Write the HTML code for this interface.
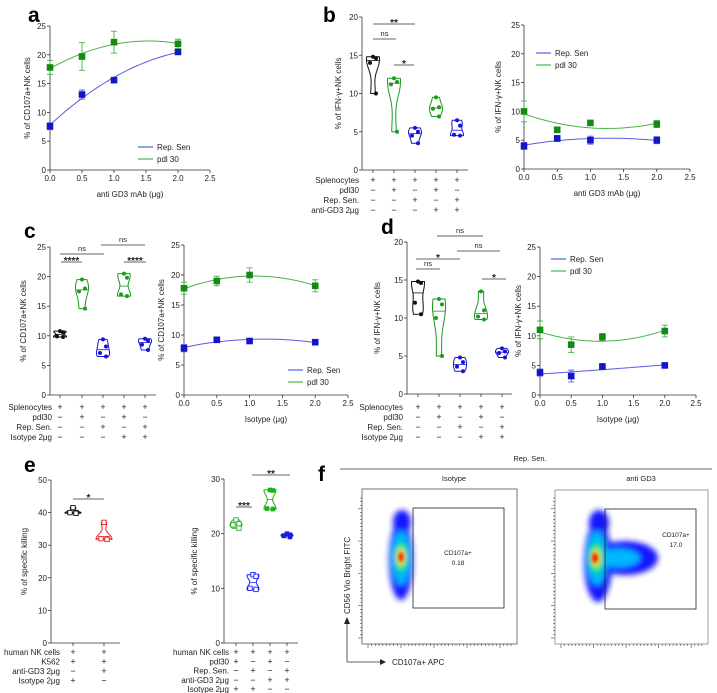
<!DOCTYPE html>
<html><head><meta charset="utf-8"><style>
html,body{margin:0;padding:0;background:#fff;}
svg{display:block;font-family:"Liberation Sans",sans-serif;}
</style></head><body>
<svg id="fig" xmlns="http://www.w3.org/2000/svg" width="717" height="693" viewBox="0 0 717 693">
<defs>
<filter id="blur" x="-50%" y="-50%" width="200%" height="200%"><feGaussianBlur stdDeviation="3"/></filter>
<filter id="blur2" x="-50%" y="-50%" width="200%" height="200%"><feGaussianBlur stdDeviation="1.6"/></filter>
</defs>
<g font-weight="bold" font-size="21" fill="#000">
<text x="28" y="22">a</text>
<text x="323" y="22">b</text>
<text x="24" y="238">c</text>
<text x="381" y="234">d</text>
<text x="24" y="472">e</text>
<text x="318" y="481">f</text>
</g>
<!-- panel f static -->
<g font-size="7.5" fill="#222">
<line x1="340" y1="469" x2="712" y2="469" stroke="#333" stroke-width="0.8"/>
<text x="530" y="461" text-anchor="middle">Rep. Sen.</text>
<text x="454" y="481" text-anchor="middle">Isotype</text>
<text x="641" y="481" text-anchor="middle">anti GD3</text>
<rect x="362" y="489" width="155" height="155" fill="none" stroke="#555" stroke-width="0.8"/>
<rect x="555" y="490" width="153" height="154" fill="none" stroke="#888" stroke-width="0.8"/>
<g filter="url(#blur)">
<ellipse cx="401" cy="560" rx="12" ry="40" fill="#1515ff"/>
<ellipse cx="402" cy="522" rx="9" ry="12" fill="#1515ff"/>
<ellipse cx="401" cy="558" rx="9" ry="27" fill="#00b8ff"/>
<ellipse cx="401" cy="557" rx="6" ry="16" fill="#00e070"/>
<ellipse cx="401" cy="557" rx="4" ry="9" fill="#f0f000"/>
</g>
<ellipse cx="401" cy="557" rx="2.5" ry="5" fill="#ff1a00" filter="url(#blur2)"/>
<g filter="url(#blur)">
<ellipse cx="625" cy="558" rx="33" ry="17" fill="#1515ff"/>
<ellipse cx="598" cy="562" rx="14" ry="40" fill="#1515ff"/>
<ellipse cx="599" cy="523" rx="10" ry="13" fill="#1515ff"/>
<ellipse cx="618" cy="558" rx="22" ry="9" fill="#00b8ff"/>
<ellipse cx="597" cy="558" rx="10" ry="27" fill="#00b8ff"/>
<ellipse cx="596" cy="558" rx="7" ry="16" fill="#00e070"/>
<ellipse cx="596" cy="558" rx="4" ry="9" fill="#f0f000"/>
</g>
<ellipse cx="595" cy="558" rx="3" ry="5" fill="#ff1a00" filter="url(#blur2)"/>
<rect x="413" y="508" width="91" height="100" fill="none" stroke="#222" stroke-width="0.8"/>
<rect x="605" y="509" width="91" height="100" fill="none" stroke="#222" stroke-width="0.8"/>
<text x="458" y="555" text-anchor="middle" font-size="6.5">CD107a+</text>
<text x="458" y="565" text-anchor="middle" font-size="6.5">0.18</text>
<text x="676" y="537" text-anchor="middle" font-size="6.5">CD107a+</text>
<text x="676" y="547" text-anchor="middle" font-size="6.5">17.0</text>
<line x1="347" y1="662" x2="347" y2="622" stroke="#333" stroke-width="0.8"/>
<polygon points="344,624 350,624 347,617" fill="#222"/>
<line x1="347" y1="662" x2="381" y2="662" stroke="#333" stroke-width="0.8"/>
<polygon points="380,659 380,665 386,662" fill="#222"/>
<text x="392" y="665" font-size="8">CD107a+ APC</text>
<text transform="translate(350,614) rotate(-90)" font-size="8">CD56 Vio Bright FITC</text>
</g>
<g id="charts"></g>
</svg>
<script>
// ---- Panel a data ----
const a_x = [0, 0.5, 1, 2];
const a_rep = [7.6, 13.1, 15.6, 20.5];
const a_rep_err = [0.6, 0.8, 0.3, 0.4];
const a_pdl = [17.8, 19.7, 22.2, 21.9];
const a_pdl_err = [1.2, 2.4, 1.9, 0.8];
const a_yticks = [0, 5, 10, 15, 20, 25];
const a_xticks = ["0.0", "0.5", "1.0", "1.5", "2.0", "2.5"];
// ---- Panel b right ----
const b2_x = [0, 0.5, 1, 2];
const b2_rep = [4.0, 5.3, 5.0, 5.0];
const b2_rep_err = [0.6, 0.5, 0.7, 0.6];
const b2_pdl = [10.0, 6.8, 8.0, 7.8];
const b2_pdl_err = [1.8, 0.2, 0.2, 0.6];
const b2_yticks = [0, 5, 10, 15, 20, 25];
// ---- Panel c right ----
const c2_x = [0, 0.5, 1, 2];
const c2_rep = [7.8, 9.2, 9.0, 8.8];
const c2_rep_err = [0.6, 0.3, 0.2, 0.2];
const c2_pdl = [17.8, 19.0, 20.0, 18.2];
const c2_pdl_err = [1.0, 0.8, 1.2, 1.0];
const c2_yticks = [0, 5, 10, 15, 20, 25];
// ---- Panel d right ----
const d2_x = [0, 0.5, 1, 2];
const d2_rep = [3.8, 3.2, 4.8, 5.0];
const d2_rep_err = [0.6, 1.0, 0.5, 0.4];
const d2_pdl = [11.0, 8.5, 9.8, 10.8];
const d2_pdl_err = [1.5, 1.3, 0.6, 1.0];
const d2_yticks = [0, 5, 10, 15, 20, 25];
const iso_xticks = ["0.0", "0.5", "1.0", "1.5", "2.0", "2.5"];
// ---- Panel b left violins ----
const b1_groups = [[14.8, 14.6, 14.0, 10.0], [12.0, 11.5, 11.2, 5.0], [5.5, 5.0, 4.5, 3.5], [9.5, 8.2, 8.0, 7.0], [6.5, 5.8, 4.6, 4.5]];
const b1_yticks = [0, 5, 10, 15, 20];
const b1_rows = ["Splenocytes", "pdl30", "Rep. Sen.", "anti-GD3 2μg"];
const b1_signs = [["+","+","+","+","+"],["−","+","−","+","−"],["−","−","+","−","+"],["−","−","−","+","+"]];
// ---- Panel c left ----
const c1_groups = [[10.8, 10.6, 9.9, 9.8], [19.5, 18.0, 17.5, 14.6], [9.4, 8.2, 7.1, 6.5], [20.5, 19.8, 17.0, 16.7], [9.5, 9.2, 8.5, 7.6]];
const c1_yticks = [0, 5, 10, 15, 20, 25];
const c1_rows = ["Splenocytes", "pdl30", "Rep. Sen.", "Isotype 2μg"];
const c1_signs = [["+","+","+","+","+"],["−","+","−","+","−"],["−","−","+","−","+"],["−","−","−","+","+"]];
// ---- Panel d left ----
const d1_groups = [[14.8, 14.6, 12.0, 10.5], [12.5, 11.8, 10.0, 5.0], [4.8, 4.2, 3.6, 3.0], [13.5, 11.0, 10.2, 9.8], [6.0, 5.6, 5.4, 4.8]];
const d1_yticks = [0, 5, 10, 15, 20];
// ---- Panel e left ----
const e1_groups = [[41.5, 40.0, 40.0, 39.8], [37.0, 32.0, 32.0, 31.8]];
const e1_yticks = [0, 10, 20, 30, 40, 50];
const e1_rows = ["human NK cells", "K562", "anti-GD3 2μg", "Isotype  2μg"];
const e1_signs = [["+","+"],["+","+"],["−","+"],["+","−"]];
// ---- Panel e right ----
const e2_groups = [[22.5, 21.8, 21.6, 21.0], [12.5, 12.2, 10.0, 9.8], [28.0, 27.9, 24.6, 24.5], [20.0, 19.8, 19.6, 19.4]];
const e2_yticks = [0, 10, 20, 30];
const e2_rows = ["human NK cells", "pdl30", "Rep. Sen.", "anti-GD3 2μg", "Isotype  2μg"];
const e2_signs = [["+","+","+","+"],["+","−","+","−"],["−","+","−","+"],["−","−","+","+"],["+","+","−","−"]];

const NS = "http://www.w3.org/2000/svg";
const root = document.getElementById('charts');
function mk(tag, attrs) {
  const e = document.createElementNS(NS, tag);
  for (const k in attrs) e.setAttribute(k, attrs[k]);
  root.appendChild(e);
  return e;
}
function txt(x, y, s, size, anchor, extra) {
  const e = mk('text', Object.assign({x: x, y: y, 'font-size': size, 'text-anchor': anchor, fill: '#222'}, extra || {}));
  e.textContent = s;
  return e;
}
const BLUE = '#1414c8', BLUEL = '#5a5ae6', GREEN = '#138a13', GREENL = '#4cb04c';

function quadFit(xs, ys) {
  let S = [0,0,0,0,0], T = [0,0,0];
  for (let i = 0; i < xs.length; i++) {
    let p = 1;
    for (let k = 0; k < 5; k++) { S[k] += p; if (k < 3) T[k] += p * ys[i]; p *= xs[i]; }
  }
  const M = [[S[0],S[1],S[2],T[0]],[S[1],S[2],S[3],T[1]],[S[2],S[3],S[4],T[2]]];
  for (let i = 0; i < 3; i++) {
    for (let j = i + 1; j < 3; j++) { const f = M[j][i] / M[i][i]; for (let k = i; k < 4; k++) M[j][k] -= f * M[i][k]; }
  }
  const c = [0,0,0];
  for (let i = 2; i >= 0; i--) { let s = M[i][3]; for (let k = i + 1; k < 3; k++) s -= M[i][k] * c[k]; c[i] = s / M[i][i]; }
  return c;
}

function drawXY(p) {
  const sx = v => p.L + (p.R - p.L) * v / 2.5;
  const sy = v => p.B - (p.B - p.T) * v / p.ymax;
  let e = mk('line', {x1: p.L, y1: p.T, x2: p.L, y2: p.B, stroke: '#333', 'stroke-width': 0.8});
  
  
  e = mk('line', {x1: p.L, y1: p.B, x2: p.R, y2: p.B, stroke: '#333', 'stroke-width': 0.8});
  
  
  p.yticks.forEach(v => {
    mk('line', {x1: p.L - 3, y1: sy(v), x2: p.L, y2: sy(v), stroke: '#333', 'stroke-width': 0.8});
    const t = txt(p.L - 4, sy(v) + 3, String(v), 8, 'end');
    
    
  });
  p.xticks.forEach((s, i) => {
    const x = sx(i * 0.5);
    mk('line', {x1: x, y1: p.B, x2: x, y2: p.B + 3, stroke: '#333', 'stroke-width': 0.8});
    const t = txt(x, p.B + 11, s, 8, 'middle');
    
    
  });
  let t = txt((p.L + p.R) / 2, p.B + 27, p.xtitle, 8, 'middle');
  
  
  t = txt(0, 0, p.ytitle, 8, 'middle', {transform: 'translate(' + p.ytx + ',' + ((p.T + p.B) / 2) + ') rotate(-90)'});
  
  
  p.series.forEach(s => {
    const c = quadFit(s.x, s.y);
    let d = '';
    for (let k = 0; k <= 40; k++) {
      const xv = 2 * k / 40, yv = c[0] + c[1] * xv + c[2] * xv * xv;
      d += (k ? 'L' : 'M') + sx(xv).toFixed(1) + ',' + sy(yv).toFixed(1);
    }
    const ln = mk('path', {d: d, fill: 'none', stroke: s.lc, 'stroke-width': 1});
    
    
    s.x.forEach((xv, i) => {
      const X = sx(xv), Y1 = sy(s.y[i] + s.err[i]), Y2 = sy(s.y[i] - s.err[i]);
      mk('path', {d: 'M' + X + ',' + Y1 + 'V' + Y2 + 'M' + (X - 3) + ',' + Y1 + 'h6M' + (X - 3) + ',' + Y2 + 'h6', stroke: s.lc, 'stroke-width': 0.9, fill: 'none'});
      const m = mk('rect', {x: X - 3.3, y: sy(s.y[i]) - 3.3, width: 6.6, height: 6.6, fill: s.c});
      
      
    });
  });
  p.series.forEach((s, i) => {
    const ly = p.legY + i * 12;
    const l = mk('line', {x1: p.legX, y1: ly, x2: p.legX + 15, y2: ly, stroke: s.lc, 'stroke-width': 1.2});
    
    
    const lt = txt(p.legX + 19, ly + 3, s.label, 8, 'start');
    
    
  });
}

function drawViolin(p) {
  const sy = v => p.B - (p.B - p.T) * v / p.ymax;
  let e = mk('line', {x1: p.L, y1: p.T, x2: p.L, y2: p.B, stroke: '#333', 'stroke-width': 0.8});
  
  
  e = mk('line', {x1: p.L, y1: p.B, x2: p.E, y2: p.B, stroke: '#333', 'stroke-width': 0.8});
  
  
  p.yticks.forEach(v => {
    mk('line', {x1: p.L - 3, y1: sy(v), x2: p.L, y2: sy(v), stroke: '#333', 'stroke-width': 0.8});
    const t = txt(p.L - 4, sy(v) + 3, String(v), 8, 'end');
    
    
  });
  const t = txt(0, 0, p.ytitle, 8, 'middle', {transform: 'translate(' + p.ytx + ',' + ((p.T + p.B) / 2) + ') rotate(-90)'});
  
  
  p.groups.forEach((pts, g) => {
    const X = p.xs[g], col = p.colors[g];
    mk('line', {x1: X, y1: p.B, x2: X, y2: p.B + 3, stroke: '#333', 'stroke-width': 0.8});
    const lo = Math.min(...pts), hi = Math.max(...pts);
    const h = Math.max((hi - lo) * 0.28, 0.25);
    const dens = y => pts.reduce((s, v) => s + Math.exp(-0.5 * ((y - v) / h) ** 2), 0);
    const N = 30, ws = [];
    let dmax = 0;
    for (let k = 0; k <= N; k++) { const y = lo + (hi - lo) * k / N; const dd = dens(y); ws.push([y, dd]); if (dd > dmax) dmax = dd; }
    let L = '', R = '';
    ws.forEach(([y, dd], k) => {
      const w = p.hw * dd / dmax;
      L += (k ? 'L' : 'M') + (X - w).toFixed(1) + ',' + sy(y).toFixed(1);
    });
    for (let k = ws.length - 1; k >= 0; k--) { const w = p.hw * ws[k][1] / dmax; R += 'L' + (X + w).toFixed(1) + ',' + sy(ws[k][0]).toFixed(1); }
    const v = mk('path', {d: L + R + 'Z', fill: 'none', stroke: col, 'stroke-width': 1});
    
    
    const srt = pts.slice().sort((a, b) => a - b);
    const med = (srt[1] + srt[2]) / 2;
    const mw = p.hw * dens(med) / dmax;
    mk('line', {x1: X - mw, y1: sy(med), x2: X + mw, y2: sy(med), stroke: col, 'stroke-width': 0.8});
    pts.forEach((pv, i) => {
      const dx = (i % 2 ? 1 : -1) * Math.min(p.hw * 0.6, 3) * (i === 0 ? 0 : 1);
      let m;
      if (p.marker[g] === 'osq') m = mk('rect', {x: X + dx - 2.2, y: sy(pv) - 2.2, width: 4.4, height: 4.4, fill: '#fff', stroke: col, 'stroke-width': 0.9});
      else if (p.marker[g] === 'sq') m = mk('rect', {x: X + dx - 2.3, y: sy(pv) - 2.3, width: 4.6, height: 4.6, fill: col});
      else m = mk('circle', {cx: X + dx, cy: sy(pv), r: 2, fill: col});
      
      
    });
  });
  p.rows.forEach((r, i) => {
    const ry = p.rowY + i * p.rowH;
    const rl = txt(p.rowX, ry, r, 8, 'end');
    
    
    p.signs[i].forEach((s, g) => {
      const st = txt(p.xs[g], ry, s, 9, 'middle');
      
      
    });
  });
  p.sig.forEach(s => {
    const b = mk('line', {x1: s[0], y1: s[2], x2: s[1], y2: s[2], stroke: '#333', 'stroke-width': 0.8});
    
    
    const st = s[3] === 'ns' ? txt((s[0] + s[1]) / 2, s[2] - 3, 'ns', 7.5, 'middle') : txt((s[0] + s[1]) / 2, s[2] + 2, s[3], 10, 'middle', {'font-weight': 'bold'});
    
    
  });
}

drawXY({L: 50, R: 210, T: 26, B: 170, ymax: 25, yticks: a_yticks, xticks: a_xticks, xtitle: 'anti GD3 mAb (μg)', ytitle: '% of CD107a+NK cells', ytx: 30, legX: 138, legY: 147,
  series: [{x: a_x, y: a_rep, err: a_rep_err, c: BLUE, lc: BLUEL, name: 'rep-sen', label: 'Rep. Sen'}, {x: a_x, y: a_pdl, err: a_pdl_err, c: GREEN, lc: GREENL, name: 'pdl30', label: 'pdl 30'}]});
drawXY({L: 524, R: 690, T: 25, B: 169, ymax: 25, yticks: b2_yticks, xticks: a_xticks, xtitle: 'anti GD3 mAb (μg)', ytitle: '% of IFN-γ+NK cells', ytx: 501, legX: 536, legY: 53,
  series: [{x: b2_x, y: b2_rep, err: b2_rep_err, c: BLUE, lc: BLUEL, name: 'rep-sen', label: 'Rep. Sen'}, {x: b2_x, y: b2_pdl, err: b2_pdl_err, c: GREEN, lc: GREENL, name: 'pdl30', label: 'pdl 30'}]});
drawXY({L: 184, R: 348, T: 245, B: 395, ymax: 25, yticks: c2_yticks, xticks: iso_xticks, xtitle: 'Isotype (μg)', ytitle: '% of CD107a+NK cells', ytx: 164, legX: 288, legY: 370,
  series: [{x: c2_x, y: c2_rep, err: c2_rep_err, c: BLUE, lc: BLUEL, name: 'rep-sen', label: 'Rep. Sen'}, {x: c2_x, y: c2_pdl, err: c2_pdl_err, c: GREEN, lc: GREENL, name: 'pdl30', label: 'pdl 30'}]});
drawXY({L: 540, R: 696, T: 247, B: 395, ymax: 25, yticks: d2_yticks, xticks: iso_xticks, xtitle: 'Isotype (μg)', ytitle: '% of IFN-γ+NK cells', ytx: 521, legX: 551, legY: 259,
  series: [{x: d2_x, y: d2_rep, err: d2_rep_err, c: BLUE, lc: BLUEL, name: 'rep-sen', label: 'Rep. Sen'}, {x: d2_x, y: d2_pdl, err: d2_pdl_err, c: GREEN, lc: GREENL, name: 'pdl30', label: 'pdl 30'}]});

const VC5 = ['#111', '#1c9a1c', '#1414d8', '#1c9a1c', '#1414d8'];
drawViolin({L: 362, E: 468, T: 17, B: 170, ymax: 20, yticks: b1_yticks, ytitle: '% of IFN-γ+NK cells', ytx: 341, hw: 6.5,
  xs: [373, 394, 415, 436, 457], colors: VC5, marker: ['c','c','c','c','c'], groups: b1_groups,
  rows: b1_rows, signs: b1_signs, rowX: 359, rowY: 183, rowH: 10,
  sig: [[373, 415, 24, '**'], [373, 396, 39, 'ns'], [394, 414, 65, '*']]});
drawViolin({L: 50, E: 156, T: 247, B: 395, ymax: 25, yticks: c1_yticks, ytitle: '% of CD107a+NK cells', ytx: 26, hw: 6.5,
  xs: [60, 82, 103, 124, 145], colors: VC5, marker: ['c','c','c','c','c'], groups: c1_groups,
  rows: c1_rows, signs: c1_signs, rowX: 52, rowY: 410, rowH: 10,
  sig: [[60, 104, 254, 'ns'], [101, 145, 245, 'ns'], [61, 82, 262, '****'], [124, 146, 262, '****']]});
drawViolin({L: 407, E: 512, T: 242, B: 394, ymax: 20, yticks: d1_yticks, ytitle: '% of IFN-γ+NK cells', ytx: 380, hw: 6.5,
  xs: [418, 439, 460, 481, 502], colors: VC5, marker: ['c','c','c','c','c'], groups: d1_groups,
  rows: c1_rows, signs: c1_signs, rowX: 403, rowY: 410, rowH: 10,
  sig: [[437, 483, 236, 'ns'], [457, 500, 251, 'ns'], [416, 460, 259, '*'], [416, 440, 269, 'ns'], [482, 506, 279, '*']]});
drawViolin({L: 51, E: 120, T: 480, B: 643, ymax: 50, yticks: e1_yticks, ytitle: '% of specific killing', ytx: 27, hw: 8,
  xs: [73, 104], colors: ['#111', '#e82020'], marker: ['osq', 'osq'], groups: e1_groups,
  rows: e1_rows, signs: e1_signs, rowX: 60, rowY: 655, rowH: 9.5,
  sig: [[73, 104, 499, '*']]});
drawViolin({L: 224, E: 298, T: 479, B: 643, ymax: 30, yticks: e2_yticks, ytitle: '% of specific killing', ytx: 197, hw: 6,
  xs: [236, 253, 270, 287], colors: ['#2cb02c', '#1a1aff', '#1cb01c', '#1a1ae0'], marker: ['osq', 'osq', 'sq', 'sq'], groups: e2_groups,
  rows: e2_rows, signs: e2_signs, rowX: 229, rowY: 655, rowH: 9.3,
  sig: [[236, 252, 507, '***'], [252, 290, 475, '**']]});

// flow plot ticks
[[362, 644, 517], [555, 644, 708]].forEach(b => {
  for (let k = 0; k < 40; k++) {
    const x = b[0] + 6 + k * (b[2] - b[0] - 12) / 39;
    const tk = mk('line', {x1: x, y1: b[1], x2: x, y2: b[1] + (k % 9 === 0 ? 4 : 2), stroke: '#444', 'stroke-width': 0.6});
    
    
    const y = b[1] - 6 - k * 140 / 39;
    const ty = mk('line', {x1: b[0] - (k % 9 === 0 ? 4 : 2), y1: y, x2: b[0], y2: y, stroke: '#444', 'stroke-width': 0.6});
    
    
  }
});
</script>
</body></html>
